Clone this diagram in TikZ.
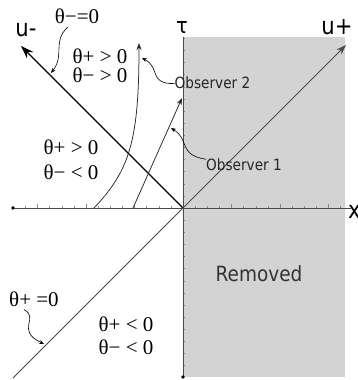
\documentclass[tikz,border=0pt]{standalone}
\usepackage{fontspec}
\setmainfont{Liberation Serif}
\newfontfamily\sansfnt[FakeStretch=0.88]{DejaVu Sans}
\usepackage{tikz}
\usetikzlibrary{arrows.meta,positioning}
\definecolor{rmv}{HTML}{D3D3D3}
\definecolor{axc}{HTML}{4A4A4A}
\definecolor{tickc}{HTML}{8A8A8A}
\tikzset{
  >={Stealth[length=7pt,width=5pt]},
  axis/.style={draw=axc,line width=0.8pt},
  obs/.style={->,draw=black!85,line width=0.75pt},
  curly/.style={-{Stealth[length=5pt,width=4pt]},line width=0.6pt},
  th/.style={font=\fontsize{21}{19}\selectfont,align=center,inner sep=0pt},
  sl/.style={font=\sansfnt\fontsize{15.5}{17}\selectfont,inner sep=0pt,text=black!85},
  big/.style={font=\sansfnt\fontsize{24}{24}\selectfont,inner sep=0pt},
}

\begin{document}
\begin{tikzpicture}[x=1pt,y=1pt]
\useasboundingbox (-183,-172) rectangle (175,208);
% removed half
\fill[rmv] (0,-169) rectangle (162,171);
% axes
\coordinate (O) at (0,0);
\coordinate (xl) at (-170,0); \coordinate (xr) at (168,0);
\coordinate (tt) at (0,171); \coordinate (tb) at (0,-169);
\foreach \i in {-14,...,13} \draw[tickc,line width=0.4pt] (\i*12.125,0) -- ++(0,2.5);
\foreach \i in {-3,...,3} \draw[tickc,line width=0.5pt] (\i*48.5,0) -- ++(0,4);
\foreach \i in {-13,...,14} \draw[tickc,line width=0.4pt] (0,\i*12.125) -- ++(2.5,0);
\draw[axis] (xl) -- (xr);
\draw[axis] (tb) -- (tt);
\fill (xl) circle (1.8pt);
\fill (tb) circle (1.8pt);
% light cone
\coordinate (umtip) at (-162,162);
\coordinate (upbot) at (-170,-170);
\coordinate (uptip) at (163,163);
\draw[->,line width=1.3pt,>={Stealth[length=13pt,width=9pt]}] (O) -- (umtip);
\draw[->,draw=axc,line width=0.9pt,>={Stealth[length=10pt,width=7pt]}] (upbot) -- (uptip);
% observers
\coordinate (ob2a) at (-89,0); \coordinate (ob2b) at (-44,165);
\coordinate (ob1a) at (-50,0); \coordinate (ob1b) at (-1,110);
\draw[obs] (ob2a) .. controls (-53,38) and (-44,68) .. (ob2b);
\draw[obs] (ob1a) -- (ob1b);
% labels
\node[big,anchor=base] (um) at (-157,171) {u-};
\node[big,anchor=base] (up) at (154,173) {u+};
\node[big,anchor=base west] (xlab) at (165,-10) {x};
\node[font=\sansfnt\fontsize{22}{22}\selectfont,inner sep=0pt,above left=3pt and -5pt of tt] (tau) {τ};
\node[sl] (obs2) at (29.5,125) {Observer 2};
\node[sl] (obs1) at (61,43) {Observer 1};
\node[font=\sansfnt\fontsize{21}{21}\selectfont,text=black!80] (rem) at (76,-66) {Removed};
\node[th] (thmz) at (-106,191.5) {θ−=0};
\node[th] (thpz) at (-149,-91) {θ+ =0};
\node[th] (rgtop) at (-83,142) {θ+ > 0\\θ− > 0};
\node[th] (rgleft) at (-112,48) {θ+ > 0\\[6pt]θ− < 0};
\node[th] (rgbot) at (-57,-128) {θ+ < 0\\[4pt]θ− < 0};
% wiggly pointers
\coordinate (c1) at (-132,135);
\coordinate (c2) at (-41,150);
\coordinate (c3) at (-12,80);
\coordinate (c4) at (-139,-136);
\draw[curly] ([xshift=13pt,yshift=-3pt]thmz.south west) .. controls (-131,166) and (-118,153) .. (c1);
\draw[curly] (obs2) .. controls (-35,124) and (-22,140) .. (c2);
\draw[curly] (obs1) .. controls (-5,53) and (7,68) .. (c3);
\draw[curly] ([xshift=15pt,yshift=-3pt]thpz.south west) .. controls (-143,-110) and (-168,-122) .. (c4);
\end{tikzpicture}
\end{document}
